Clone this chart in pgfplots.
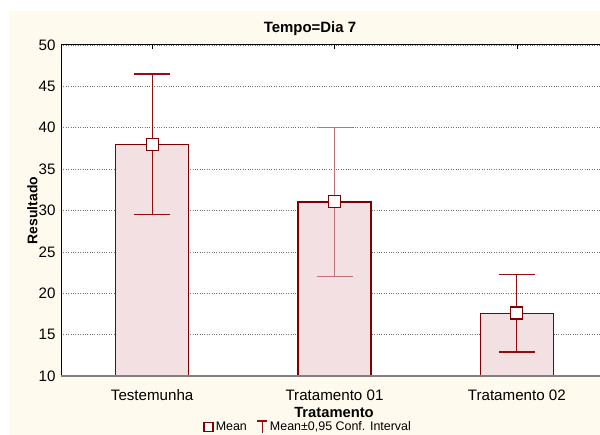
\documentclass[border=0pt]{standalone}
\usepackage{fontspec}
\setmainfont{Liberation Sans}
\usepackage{pgfplots}
\pgfplotsset{compat=1.18}
\definecolor{cream}{RGB}{255,250,238}
\definecolor{barfill}{RGB}{243,224,226}
\definecolor{baredge}{RGB}{128,0,0}
\definecolor{errA}{RGB}{145,15,15}
\definecolor{errB}{RGB}{192,115,118}
\begin{document}
\begin{tikzpicture}
\useasboundingbox (0bp,0bp) rectangle (600bp,435bp);
\clip (0bp,0bp) rectangle (600bp,435bp);
\fill[white] (0bp,0bp) rectangle (600bp,435bp);
\fill[cream] (9bp,0bp) rectangle (600bp,424bp);
\begin{axis}[
  at={(61bp,59bp)}, anchor=south west,
  scale only axis, width=547bp, height=331bp,
  xmin=-0.5, xmax=2.5, ymin=10, ymax=50,
  xtick={0,1,2}, xticklabels={Testemunha,Tratamento 01,Tratamento 02},
  ytick={10,15,...,50},
  ymajorgrids, grid style={dotted, black!55, line width=0.6bp},
  axis background/.style={fill=white},
  axis line style={black, line width=1bp},
  ytick style={draw=none},
  xtick style={black, line width=0.6bp},
  major tick length=4bp,
  tick align=inside,
  ticklabel style={font=\fontsize{15.2}{18}\selectfont},
  xticklabel style={yshift=-10bp},
  yticklabel style={xshift=-2bp},
  /pgf/number format/assume math mode=true,
  legend style={at={(0.4516,-0.154)}, anchor=center, draw=none, fill=none,
    font=\fontsize{12.5}{14}\selectfont, inner sep=0pt,
    /tikz/every even column/.append style={column sep=8bp}},
  legend columns=2,
]
\addplot[ybar, bar width=0.4, fill=barfill, draw=baredge, line width=1.5bp,
  legend image code/.code={\draw[baredge, line width=1.6bp, fill=white] (-3bp,-4.5bp) rectangle (6bp,4.5bp);}]
  coordinates {(0,38.0) (1,31.05) (2,17.55)};
\addlegendentry{Mean}
\addplot[only marks, mark=square*, mark size=6bp,
  mark options={fill=white, draw=baredge, line width=1.3bp},
  legend image code/.code={\draw[errA, line width=1.1bp] (4bp,-6bp)--(4bp,6bp) (-1bp,6bp)--(9bp,6bp);},
  error bars/.cd, y dir=both, y explicit,
  error bar style={errA, line width=1.3bp},
  error mark options={rotate=90, mark size=18bp, errA, line width=1.3bp}]
  coordinates {(0,38.0) +- (0,8.5)};
\addlegendentry{Mean±0,95 Conf. Interval}
\addplot[only marks, mark=square*, mark size=6bp, forget plot,
  mark options={fill=white, draw=baredge, line width=1.3bp},
  error bars/.cd, y dir=both, y explicit,
  error bar style={errB, line width=1.4bp},
  error mark options={rotate=90, mark size=18bp, errB, line width=1.4bp}]
  coordinates {(1,31.05) +- (0,9.0)};
\addplot[only marks, mark=square*, mark size=6bp, forget plot,
  mark options={fill=white, draw=baredge, line width=1.3bp},
  error bars/.cd, y dir=both, y explicit,
  error bar style={errA, line width=1.3bp},
  error mark options={rotate=90, mark size=18bp, errA, line width=1.3bp}]
  coordinates {(2,17.6) +- (0,4.7)};
\end{axis}
\draw[gray, line width=1.4bp] (61bp,59bp) -- (600bp,59bp);
\node[font=\bfseries\fontsize{15}{18}\selectfont, anchor=base] at (310bp,402bp) {Tempo=Dia 7};
\node[font=\bfseries\fontsize{14.8}{17}\selectfont, anchor=base] at (334bp,18bp) {Tratamento};
\node[font=\bfseries\fontsize{14}{17}\selectfont, anchor=base, rotate=90] at (37.3bp,224.5bp) {Resultado};
\end{tikzpicture}
\end{document}
